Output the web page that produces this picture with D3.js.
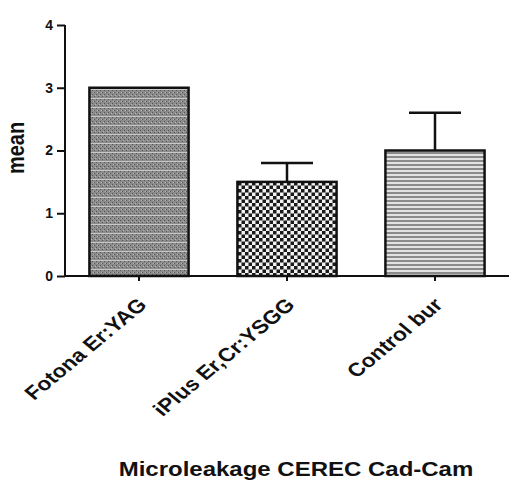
<!DOCTYPE html>
<html>
<head>
<meta charset="utf-8">
<script src="https://cdn.jsdelivr.net/npm/d3@7"></script>
<style>
  html, body { margin: 0; padding: 0; background: #fff; }
  svg { display: block; }
  text { font-family: "Liberation Sans", Arial, sans-serif; fill: #111; }
</style>
</head>
<body>
<div id="chart"></div>
<script>
const categories = ["Fotona Er:YAG", "iPlus Er,Cr:YSGG", "Control bur"];
const means = [3, 1.5, 2];
const errors = [0, 0.3, 0.6];
const yTicks = [0, 1, 2, 3, 4];
const yLabel = "mean";
const xTitle = "Microleakage CEREC Cad-Cam";
const patterns = ["pat-dots", "pat-check", "pat-lines"];

const W = 509, H = 481;
const svg = d3.select("#chart").append("svg").attr("width", W).attr("height", H);
svg.append("rect").attr("width", W).attr("height", H).attr("fill", "#fff");

const defs = svg.append("defs");
// Pattern 1: fine gray stipple with lighter horizontal bands
const p1 = defs.append("pattern").attr("id", "pat-dots").attr("patternUnits", "userSpaceOnUse")
  .attr("width", 4).attr("height", 9);
p1.append("rect").attr("width", 4).attr("height", 9).attr("fill", "#8c8c8c");
p1.append("rect").attr("x", 0).attr("y", 0).attr("width", 1).attr("height", 1).attr("fill", "#555");
p1.append("rect").attr("x", 2).attr("y", 2).attr("width", 1).attr("height", 1).attr("fill", "#555");
p1.append("rect").attr("x", 0).attr("y", 4).attr("width", 1).attr("height", 1).attr("fill", "#555");
p1.append("rect").attr("x", 2).attr("y", 6).attr("width", 1).attr("height", 1).attr("fill", "#555");
p1.append("rect").attr("x", 1).attr("y", 2).attr("width", 1).attr("height", 1).attr("fill", "#b5b5b5");
p1.append("rect").attr("x", 3).attr("y", 5).attr("width", 1).attr("height", 1).attr("fill", "#b5b5b5");
p1.append("rect").attr("x", 0).attr("y", 8).attr("width", 4).attr("height", 1).attr("fill", "#c8c8c8");
// Pattern 2: black/white checker
const p2 = defs.append("pattern").attr("id", "pat-check").attr("patternUnits", "userSpaceOnUse")
  .attr("width", 7).attr("height", 7);
p2.append("rect").attr("width", 7).attr("height", 7).attr("fill", "#f2f2f2");
p2.append("rect").attr("x", 0).attr("y", 0).attr("width", 3.5).attr("height", 3.5).attr("fill", "#1a1a1a");
p2.append("rect").attr("x", 3.5).attr("y", 3.5).attr("width", 3.5).attr("height", 3.5).attr("fill", "#1a1a1a");
// Pattern 3: horizontal gray stripes
const p3 = defs.append("pattern").attr("id", "pat-lines").attr("patternUnits", "userSpaceOnUse")
  .attr("width", 4).attr("height", 4);
p3.append("rect").attr("width", 4).attr("height", 4).attr("fill", "#e2e2e2");
p3.append("rect").attr("y", 0).attr("width", 4).attr("height", 2).attr("fill", "#8a8a8a");

const axisX = 65, baseY = 276, topY = 25;
const y = d3.scaleLinear().domain([0, 4]).range([baseY, topY]);
const x = d3.scaleBand().domain(categories).range([axisX, W]).paddingInner(0.33).paddingOuter(0.165);

// Bars
const data = categories.map((c, i) => ({ c, m: means[i], e: errors[i], p: patterns[i] }));
svg.selectAll("rect.bar").data(data).enter().append("rect")
  .attr("class", "bar")
  .attr("x", d => x(d.c))
  .attr("y", d => y(d.m))
  .attr("width", x.bandwidth())
  .attr("height", d => y(0) - y(d.m))
  .attr("fill", d => `url(#${d.p})`)
  .attr("stroke", "#111").attr("stroke-width", 2.5);

// Error bars (upper only)
const eb = svg.selectAll("g.err").data(data.filter(d => d.e > 0)).enter().append("g").attr("class", "err");
eb.append("line")
  .attr("x1", d => x(d.c) + x.bandwidth() / 2).attr("x2", d => x(d.c) + x.bandwidth() / 2)
  .attr("y1", d => y(d.m)).attr("y2", d => y(d.m + d.e))
  .attr("stroke", "#111").attr("stroke-width", 2.5);
eb.append("line")
  .attr("x1", d => x(d.c) + x.bandwidth() / 2 - 26).attr("x2", d => x(d.c) + x.bandwidth() / 2 + 26)
  .attr("y1", d => y(d.m + d.e)).attr("y2", d => y(d.m + d.e))
  .attr("stroke", "#111").attr("stroke-width", 2.5);

// Y axis
const yAxis = svg.append("g").attr("transform", `translate(${axisX},0)`)
  .call(d3.axisLeft(y).tickValues(yTicks).tickFormat(d3.format("d")).tickSize(8).tickPadding(4));
yAxis.select(".domain").attr("stroke", "#111").attr("stroke-width", 2).attr("d", `M0,${baseY}V${topY}`);
yAxis.selectAll(".tick line").attr("stroke", "#111").attr("stroke-width", 2);
yAxis.selectAll(".tick text").style("font-size", "14px").style("font-weight", "bold")
  .style("font-family", "'Liberation Sans', Arial, sans-serif").attr("fill", "#111");

// X axis
const xAxis = svg.append("g").attr("transform", `translate(0,${baseY})`)
  .call(d3.axisBottom(x).tickSize(5).tickFormat(""));
xAxis.select(".domain").attr("stroke", "#111").attr("stroke-width", 2).attr("d", `M${axisX},0H${W}`);
xAxis.selectAll(".tick line").attr("stroke", "#111").attr("stroke-width", 2);

// Rotated category labels
svg.selectAll("text.cat").data(categories).enter().append("text")
  .attr("class", "cat")
  .attr("text-anchor", "end")
  .attr("transform", d => `translate(${x(d) + x.bandwidth() / 2 + 9},${baseY + 30}) scale(1.2,1) rotate(-45)`)
  .style("font-size", "19px").style("font-weight", "bold")
  .text(d => d);

// Y label
svg.append("text")
  .attr("text-anchor", "middle")
  .attr("transform", `translate(24,148) scale(1.2,1) rotate(-90)`)
  .style("font-size", "20px").style("font-weight", "bold")
  .text(yLabel);

// X title
svg.append("text")
  .attr("text-anchor", "middle")
  .attr("transform", `translate(296,476) scale(1.2,1)`)
  .style("font-size", "20px").style("font-weight", "bold")
  .text(xTitle);
</script>
</body>
</html>
